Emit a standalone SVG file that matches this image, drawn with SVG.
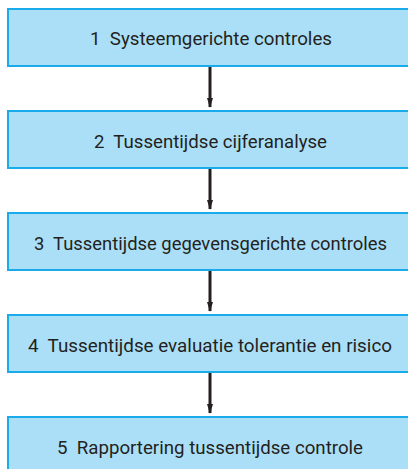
<svg xmlns="http://www.w3.org/2000/svg" width="408" height="469" viewBox="0 0 408 469">
<style>
.box{fill:#abdff8;stroke:#1aabea;stroke-width:2}
.lbl{font-family:Roboto,"Liberation Sans",sans-serif;font-size:18px;fill:#231f20;text-anchor:middle;white-space:pre}
.conn{stroke:#231f20;stroke-width:3;fill:none}
</style>
<defs>
<marker id="ah" markerUnits="userSpaceOnUse" markerWidth="10" markerHeight="16" refX="15" refY="5" orient="auto" viewBox="0 0 16 10">
<path d="M0,0 L16,5 L0,10 Z" fill="#231f20"/>
</marker>
</defs>
<rect width="408" height="469" fill="#ffffff"/>
<g id="node1"><rect class="box" x="8" y="9" width="412" height="57"/><text class="lbl" x="211" y="45" textLength="242" lengthAdjust="spacingAndGlyphs">1  Systeemgerichte controles</text></g>
<g id="node2"><rect class="box" x="8" y="111" width="412" height="57"/><text class="lbl" x="210.5" y="148" textLength="233" lengthAdjust="spacingAndGlyphs">2  Tussentijdse cijferanalyse</text></g>
<g id="node3"><rect class="box" x="8" y="213" width="412" height="57"/><text class="lbl" x="210.5" y="250" textLength="353" lengthAdjust="spacingAndGlyphs">3  Tussentijdse gegevensgerichte controles</text></g>
<g id="node4"><rect class="box" x="8" y="315" width="412" height="57"/><text class="lbl" x="210" y="352" textLength="364" lengthAdjust="spacingAndGlyphs">4  Tussentijdse evaluatie tolerantie en risico</text></g>
<g id="node5"><rect class="box" x="8" y="417" width="412" height="57"/><text class="lbl" x="210" y="454" textLength="306" lengthAdjust="spacingAndGlyphs">5  Rapportering tussentijdse controle</text></g>
<g id="connectors">
<line class="conn" x1="210" y1="67" x2="210" y2="107" marker-end="url(#ah)"/>
<line class="conn" x1="210" y1="169" x2="210" y2="209" marker-end="url(#ah)"/>
<line class="conn" x1="210" y1="271" x2="210" y2="311" marker-end="url(#ah)"/>
<line class="conn" x1="210" y1="373" x2="210" y2="413" marker-end="url(#ah)"/>
</g>
</svg>
